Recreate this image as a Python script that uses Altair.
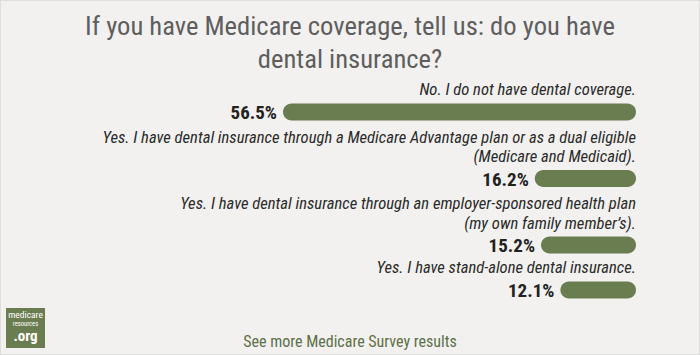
import altair as alt
import pandas as pd

# ---- data ----
answers = [
    "No. I do not have dental coverage.",
    "Yes. I have dental insurance through a Medicare Advantage plan or as a dual eligible\n(Medicare and Medicaid).",
    "Yes. I have dental insurance through an employer-sponsored health plan\n(my own family member\u2019s).",
    "Yes. I have stand-alone dental insurance.",
]
shares = [56.5, 16.2, 15.2, 12.1]
share_labels = ["56.5%", "16.2%", "15.2%", "12.1%"]

title_text = "If you have Medicare coverage, tell us: do you have\ndental insurance?"
footer_text = "See more Medicare Survey results"

FONT = "Roboto Condensed"
GREEN = "#6a7d50"

# ---- layout helper: vertical slot per answer from its number of label lines ----
LH = 19.5      # label line height (px)
unit = 22.5    # px per layout unit
k = 1.09
lines = [a.count("\n") + 1 for a in answers]
pos, label_pos = [], []
acc = 0.0
for n in lines:
    acc += n + k
    pos.append(acc)
    label_pos.append(acc - (n - 1) * LH / unit)

df = pd.DataFrame({"answer": answers, "share": shares, "label": share_labels,
                   "pos": pos, "label_pos": label_pos})

W, H = 700, 355
y0 = 62.0
yscale = alt.Scale(domain=[0, pos[-1]], range=[y0, y0 + unit * pos[-1]])
xscale = alt.Scale(domain=[0, max(shares)], range=[636, 283])

base = alt.Chart(df)

bars = base.mark_bar(height=17, cornerRadius=8.5, color=GREEN).encode(
    x=alt.X("share:Q", scale=xscale, axis=None),
    x2=alt.datum(0),
    y=alt.Y("pos:Q", scale=yscale, axis=None),
)

pct = base.mark_text(
    align="right", baseline="middle", dx=-6, dy=1, font=FONT, fontSize=19,
    fontWeight="bold", color="#222222",
).encode(
    x=alt.X("share:Q", scale=xscale),
    y=alt.Y("pos:Q", scale=yscale),
    text="label:N",
)

labels = base.mark_text(
    align="right", baseline="alphabetic", dy=-17, lineBreak="\n", lineHeight=LH,
    font=FONT, fontSize=16.6, fontStyle="italic", color="#2a2a2a",
).encode(
    x=alt.X(datum=0, scale=xscale),
    y=alt.Y("label_pos:Q", scale=yscale),
    text="answer:N",
)

deco = alt.Chart(alt.Data(values=[{}]))

title = deco.mark_text(
    align="center", baseline="alphabetic", lineBreak="\n", lineHeight=33,
    font=FONT, fontSize=26.6, color="#5e5e5e",
).encode(x=alt.value(350), y=alt.value(35), text=alt.value(title_text))

footer = deco.mark_text(
    align="center", baseline="middle", font=FONT, fontSize=16, color="#5d7048",
).encode(x=alt.value(350), y=alt.value(342), text=alt.value(footer_text))

logo_box = deco.mark_rect(color=GREEN).encode(
    x=alt.value(6), x2=alt.value(45), y=alt.value(308), y2=alt.value(348)
)
logo1 = deco.mark_text(align="center", baseline="middle", font=FONT, fontSize=9.5, color="white").encode(
    x=alt.value(25.5), y=alt.value(315), text=alt.value("medicare"))
logo2 = deco.mark_text(align="center", baseline="middle", font=FONT, fontSize=6.5, color="white").encode(
    x=alt.value(25.5), y=alt.value(323.5), text=alt.value("resources"))
logo3 = deco.mark_text(align="center", baseline="middle", font=FONT, fontSize=15, fontWeight="bold", color="white").encode(
    x=alt.value(25.5), y=alt.value(336), text=alt.value(".org"))

chart = alt.layer(
    bars, pct, labels, title, footer, logo_box, logo1, logo2, logo3
).properties(
    width=W, height=H, padding=0, autosize=alt.AutoSizeParams(type="none"),
    background="#ffffff",
).configure_view(fill="#f2f1ef", stroke="#d8d8d8", strokeWidth=1.5)

chart.save("out.html", embed_options={"renderer": "svg", "actions": False})
